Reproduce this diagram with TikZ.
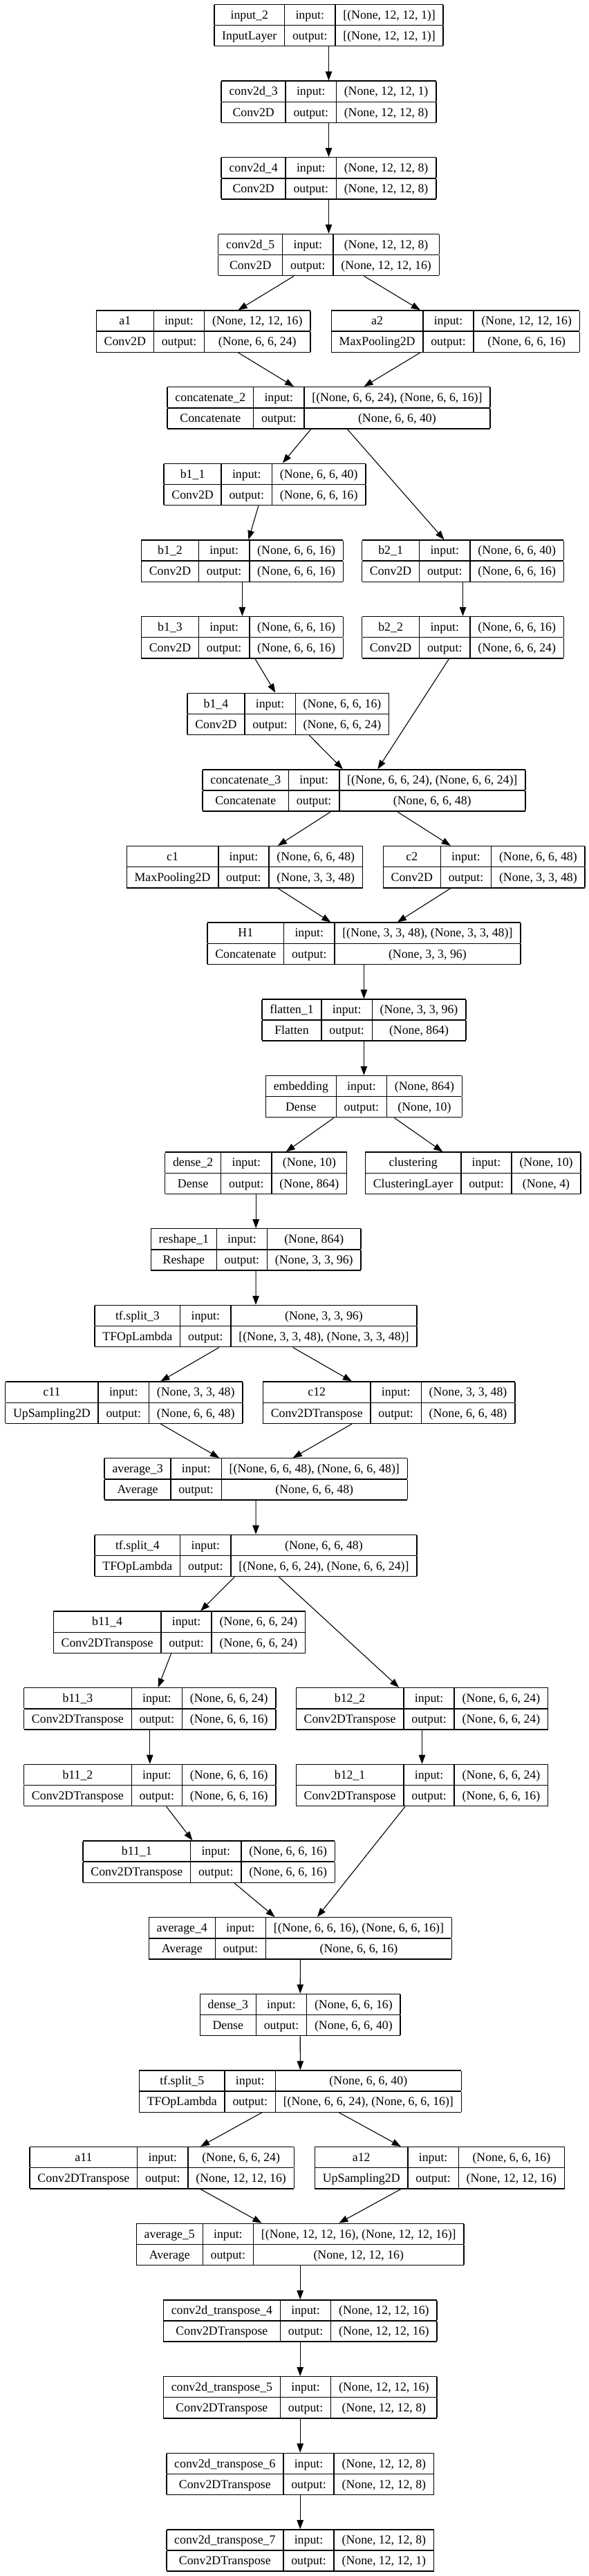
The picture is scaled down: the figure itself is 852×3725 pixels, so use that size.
\documentclass[tikz,border=0pt]{standalone}
\usepackage{fontspec}
\setmainfont{Liberation Serif}
\usetikzlibrary{arrows.meta}
\begin{document}
\begin{tikzpicture}[x=1bp, y=-1bp, >={Triangle[length=13bp,width=9.5bp]}, line width=1.1bp, font=\fontsize{17.8bp}{21.5bp}\selectfont, layer/.style={inner sep=0pt, outer sep=0pt}]
\setlength{\tabcolsep}{11.4bp} \setlength{\arrayrulewidth}{1.4bp} \def\arraystretch{1.337}
\def\lyr#1#2#3#4{\begin{tabular}{|c|c|c|}\hline #1 & input: & #3\\\hline #2 & output: & #4\\\hline\end{tabular}}
\useasboundingbox (0,0) rectangle (852,3725);
% encoder
\node[layer] (in2) at (475.5,36.5) {\lyr{input\_2}{InputLayer}{[(None, 12, 12, 1)]}{[(None, 12, 12, 1)]}};
\node[layer] (cv3) at (475.5,147.2) {\lyr{conv2d\_3}{Conv2D}{(None, 12, 12, 1)}{(None, 12, 12, 8)}};
\node[layer] (cv4) at (475.5,257.8) {\lyr{conv2d\_4}{Conv2D}{(None, 12, 12, 8)}{(None, 12, 12, 8)}};
\node[layer] (cv5) at (475.5,368.5) {\lyr{conv2d\_5}{Conv2D}{(None, 12, 12, 8)}{(None, 12, 12, 16)}};
\node[layer] (a1) at (294.1,479.1) {\lyr{a1}{Conv2D}{(None, 12, 12, 16)}{(None, 6, 6, 24)}};
\node[layer] (a2) at (658.9,479.1) {\lyr{a2}{MaxPooling2D}{(None, 12, 12, 16)}{(None, 6, 6, 16)}};
\node[layer] (cat2) at (475.5,589.8) {\lyr{concatenate\_2}{Concatenate}{[(None, 6, 6, 24), (None, 6, 6, 16)]}{(None, 6, 6, 40)}};
\node[layer] (b1a) at (383.0,700.4) {\lyr{b1\_1}{Conv2D}{(None, 6, 6, 40)}{(None, 6, 6, 16)}};
\node[layer] (b1b) at (350.4,811.1) {\lyr{b1\_2}{Conv2D}{(None, 6, 6, 16)}{(None, 6, 6, 16)}};
\node[layer] (b2a) at (669.5,811.1) {\lyr{b2\_1}{Conv2D}{(None, 6, 6, 40)}{(None, 6, 6, 16)}};
\node[layer] (b1c) at (350.4,921.7) {\lyr{b1\_3}{Conv2D}{(None, 6, 6, 16)}{(None, 6, 6, 16)}};
\node[layer] (b2b) at (669.5,921.7) {\lyr{b2\_2}{Conv2D}{(None, 6, 6, 16)}{(None, 6, 6, 24)}};
\node[layer] (b1d) at (416.8,1032.4) {\lyr{b1\_4}{Conv2D}{(None, 6, 6, 16)}{(None, 6, 6, 24)}};
\node[layer] (cat3) at (526.4,1143.0) {\lyr{concatenate\_3}{Concatenate}{[(None, 6, 6, 24), (None, 6, 6, 24)]}{(None, 6, 6, 48)}};
\node[layer] (c1) at (353.9,1253.7) {\lyr{c1}{MaxPooling2D}{(None, 6, 6, 48)}{(None, 3, 3, 48)}};
\node[layer] (c2) at (700.2,1253.7) {\lyr{c2}{Conv2D}{(None, 6, 6, 48)}{(None, 3, 3, 48)}};
\node[layer] (H1) at (526.4,1364.3) {\lyr{H1}{Concatenate}{[(None, 3, 3, 48), (None, 3, 3, 48)]}{(None, 3, 3, 96)}};
\node[layer] (flat) at (526.4,1475.0) {\lyr{flatten\_1}{Flatten}{(None, 3, 3, 96)}{(None, 864)}};
\node[layer] (emb) at (526.4,1585.6) {\lyr{embedding}{Dense}{(None, 864)}{(None, 10)}};
\node[layer] (dense2) at (370.2,1696.3) {\lyr{dense\_2}{Dense}{(None, 10)}{(None, 864)}};
\node[layer] (clus) at (684.2,1696.3) {\lyr{clustering}{ClusteringLayer}{(None, 10)}{(None, 4)}};
% decoder
\node[layer] (resh) at (370.2,1806.9) {\lyr{reshape\_1}{Reshape}{(None, 864)}{(None, 3, 3, 96)}};
\node[layer] (split3) at (370.0,1917.6) {\lyr{tf.split\_3}{TFOpLambda}{(None, 3, 3, 96)}{[(None, 3, 3, 48), (None, 3, 3, 48)]}};
\node[layer] (c11) at (179.3,2028.2) {\lyr{c11}{UpSampling2D}{(None, 3, 3, 48)}{(None, 6, 6, 48)}};
\node[layer] (c12) at (562.6,2028.2) {\lyr{c12}{Conv2DTranspose}{(None, 3, 3, 48)}{(None, 6, 6, 48)}};
\node[layer] (avg3) at (370.2,2138.9) {\lyr{average\_3}{Average}{[(None, 6, 6, 48), (None, 6, 6, 48)]}{(None, 6, 6, 48)}};
\node[layer] (split4) at (370.0,2249.5) {\lyr{tf.split\_4}{TFOpLambda}{(None, 6, 6, 48)}{[(None, 6, 6, 24), (None, 6, 6, 24)]}};
\node[layer] (b11d) at (259.5,2360.2) {\lyr{b11\_4}{Conv2DTranspose}{(None, 6, 6, 24)}{(None, 6, 6, 24)}};
\node[layer] (b11c) at (216.8,2470.8) {\lyr{b11\_3}{Conv2DTranspose}{(None, 6, 6, 24)}{(None, 6, 6, 16)}};
\node[layer] (b12b) at (610.5,2470.8) {\lyr{b12\_2}{Conv2DTranspose}{(None, 6, 6, 24)}{(None, 6, 6, 24)}};
\node[layer] (b11b) at (216.8,2581.5) {\lyr{b11\_2}{Conv2DTranspose}{(None, 6, 6, 16)}{(None, 6, 6, 16)}};
\node[layer] (b12a) at (610.5,2581.5) {\lyr{b12\_1}{Conv2DTranspose}{(None, 6, 6, 24)}{(None, 6, 6, 16)}};
\node[layer] (b11a) at (302.2,2692.1) {\lyr{b11\_1}{Conv2DTranspose}{(None, 6, 6, 16)}{(None, 6, 6, 16)}};
\node[layer] (avg4) at (434.4,2802.8) {\lyr{average\_4}{Average}{[(None, 6, 6, 16), (None, 6, 6, 16)]}{(None, 6, 6, 16)}};
\node[layer] (dense3) at (434.2,2913.4) {\lyr{dense\_3}{Dense}{(None, 6, 6, 16)}{(None, 6, 6, 40)}};
\node[layer] (split5) at (434.4,3024.1) {\lyr{tf.split\_5}{TFOpLambda}{(None, 6, 6, 40)}{[(None, 6, 6, 24), (None, 6, 6, 16)]}};
\node[layer] (a11) at (234.2,3134.7) {\lyr{a11}{Conv2DTranspose}{(None, 6, 6, 24)}{(None, 12, 12, 16)}};
\node[layer] (a12) at (636.0,3134.7) {\lyr{a12}{UpSampling2D}{(None, 6, 6, 16)}{(None, 12, 12, 16)}};
\node[layer] (avg5) at (434.2,3245.4) {\lyr{average\_5}{Average}{[(None, 12, 12, 16), (None, 12, 12, 16)]}{(None, 12, 12, 16)}};
\node[layer] (ct4) at (434.2,3356.0) {\lyr{conv2d\_transpose\_4}{Conv2DTranspose}{(None, 12, 12, 16)}{(None, 12, 12, 16)}};
\node[layer] (ct5) at (434.2,3466.7) {\lyr{conv2d\_transpose\_5}{Conv2DTranspose}{(None, 12, 12, 16)}{(None, 12, 12, 8)}};
\node[layer] (ct6) at (434.2,3577.3) {\lyr{conv2d\_transpose\_6}{Conv2DTranspose}{(None, 12, 12, 8)}{(None, 12, 12, 8)}};
\node[layer] (ct7) at (434.2,3688.0) {\lyr{conv2d\_transpose\_7}{Conv2DTranspose}{(None, 12, 12, 8)}{(None, 12, 12, 1)}};
% edges
\draw[->] (in2)--(cv3); \draw[->] (cv3)--(cv4); \draw[->] (cv4)--(cv5);
\draw[->] (cv5)--(a1); \draw[->] (cv5)--(a2);
\draw[->] (a1)--(cat2); \draw[->] (a2)--(cat2);
\draw[->] (cat2)--(b1a); \draw[->] (cat2)--(b2a);
\draw[->] (b1a)--(b1b); \draw[->] (b1b)--(b1c); \draw[->] (b1c)--(b1d);
\draw[->] (b2a)--(b2b);
\draw[->] (b1d)--(cat3); \draw[->] (b2b)--(cat3);
\draw[->] (cat3)--(c1); \draw[->] (cat3)--(c2);
\draw[->] (c1)--(H1); \draw[->] (c2)--(H1);
\draw[->] (H1)--(flat); \draw[->] (flat)--(emb);
\draw[->] (emb)--(dense2); \draw[->] (emb)--(clus);
\draw[->] (dense2)--(resh); \draw[->] (resh)--(split3);
\draw[->] (split3)--(c11); \draw[->] (split3)--(c12);
\draw[->] (c11)--(avg3); \draw[->] (c12)--(avg3);
\draw[->] (avg3)--(split4);
\draw[->] (split4)--(b11d); \draw[->] (split4)--(b12b);
\draw[->] (b11d)--(b11c); \draw[->] (b11c)--(b11b); \draw[->] (b11b)--(b11a);
\draw[->] (b12b)--(b12a);
\draw[->] (b11a)--(avg4); \draw[->] (b12a)--(avg4);
\draw[->] (avg4)--(dense3); \draw[->] (dense3)--(split5);
\draw[->] (split5)--(a11); \draw[->] (split5)--(a12);
\draw[->] (a11)--(avg5); \draw[->] (a12)--(avg5);
\draw[->] (avg5)--(ct4); \draw[->] (ct4)--(ct5); \draw[->] (ct5)--(ct6); \draw[->] (ct6)--(ct7);
\end{tikzpicture}
\end{document}
